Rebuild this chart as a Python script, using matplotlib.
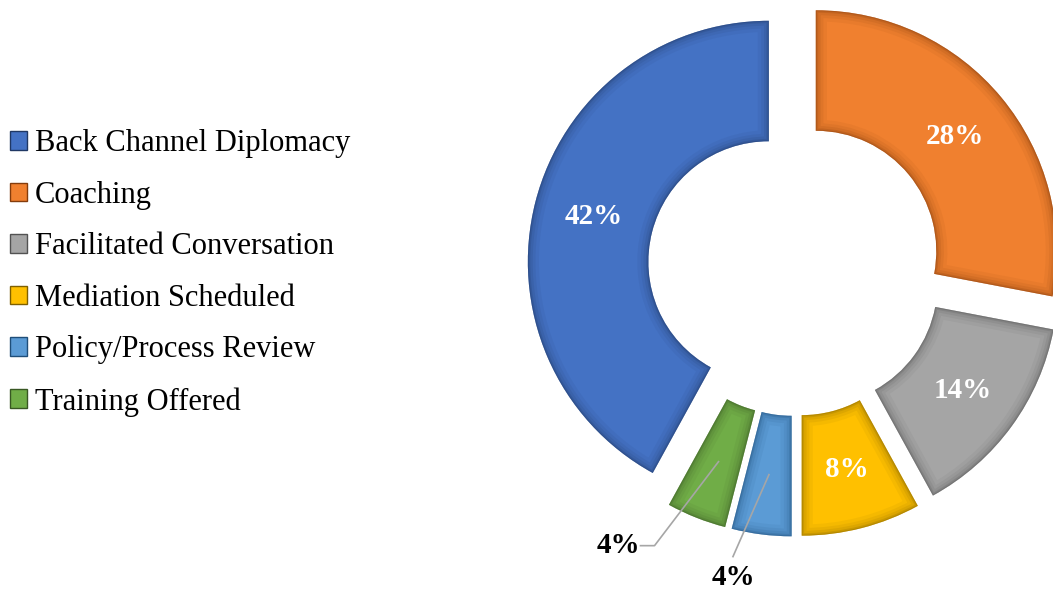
import numpy as np
import matplotlib
matplotlib.use('Agg')
import matplotlib.pyplot as plt
from matplotlib.patches import PathPatch, Patch

# ── Data ───────────────────────────────────────────────────────────────────
categories = ['Back Channel Diplomacy', 'Coaching', 'Facilitated Conversation',
              'Mediation Scheduled', 'Policy/Process Review', 'Training Offered']
shares = [42, 28, 14, 8, 4, 4]

# ── Style ──────────────────────────────────────────────────────────────────
colors = ['#4472C4', '#F0802F', '#A5A5A5', '#FFC000', '#5B9BD5', '#70AD47']
rim_colors = ['#203864', '#843C0C', '#525252', '#7F6000', '#1F4E79', '#385723']

plt.rcParams['font.family'] = ['Liberation Serif', 'DejaVu Serif']

fig = plt.figure(figsize=(10.53, 5.92), dpi=100)
ax = fig.add_axes([0, 0, 1, 1])

px = 241.0                      # pixels per unit radius
cx_px, cy_px = 795.0, 268.5     # donut centre in pixels (from top-left)
explode = [27 / px] * len(shares)
# Back Channel sits last clockwise from 12 o'clock
start = 90 - 360 * sum(shares[1:]) / sum(shares)

wedges, _ = ax.pie(shares, colors=colors, explode=explode, startangle=start,
                   counterclock=False, radius=1.0,
                   wedgeprops=dict(width=0.5, linewidth=0))

# fake bevel: soft dark rim clipped to the inside of each wedge
for w, rc in zip(wedges, rim_colors):
    for lw, a in [(16, 0.07), (11, 0.09), (7, 0.12), (3.5, 0.2), (1.5, 0.3)]:
        rim = PathPatch(w.get_path(), transform=ax.transData, fill=False,
                        edgecolor=rc, lw=lw, alpha=a)
        rim.set_clip_path(w)
        ax.add_patch(rim)

# ── Data labels ────────────────────────────────────────────────────────────
total = sum(shares)
for w, v in zip(wedges, shares):
    mid = np.deg2rad(0.5 * (w.theta1 + w.theta2))
    x0, y0 = w.center
    ax_, ay_ = x0 + 0.75 * np.cos(mid), y0 + 0.75 * np.sin(mid)
    pct = f'{round(100 * v / total)}%'
    if v >= 5:
        ax.text(ax_, ay_, pct, color='white', fontsize=21, fontweight='bold',
                ha='center', va='center')

# small slices: labels outside with leader lines
small = [(w, v) for w, v in zip(wedges, shares) if v < 5]
for i, (w, v) in enumerate(small):
    mid = np.deg2rad(0.5 * (w.theta1 + w.theta2))
    x0, y0 = w.center
    ax_, ay_ = x0 + 0.75 * np.cos(mid), y0 + 0.75 * np.sin(mid)
    pct = f'{round(100 * v / total)}%'
    if i == 0:   # Policy/Process Review
        ex, ey = ax_ - 36 / px, ay_ - 82 / px
        ax.plot([ax_, ex], [ay_, ey], color='#A6A6A6', lw=1.2)
        ax.text(ex, ey - 21 / px, pct, color='black', fontsize=21,
                fontweight='bold', ha='center', va='center')
    else:        # Training Offered
        bx, by = ax_ - 64 / px, ay_ - 84 / px
        ex = bx - 14 / px
        ax.plot([ax_, bx, ex], [ay_, by, by], color='#A6A6A6', lw=1.2)
        ax.text(ex, by, pct, color='black', fontsize=21,
                fontweight='bold', ha='right', va='center')

# ── Legend ─────────────────────────────────────────────────────────────────
handles = [Patch(facecolor=c, edgecolor=rc, linewidth=1.0)
           for c, rc in zip(colors, rim_colors)]
fig.legend(handles, categories, loc='upper left',
           bbox_to_anchor=(10 / 1053, 1 - 129 / 592),
           frameon=False, fontsize=22, handlelength=0.56, handleheight=0.56,
           handletextpad=0.26, labelspacing=0.74, borderpad=0,
           borderaxespad=0)

# ── Axes ───────────────────────────────────────────────────────────────────
ax.set_xlim(-cx_px / px, (1053 - cx_px) / px)
ax.set_ylim(-(592 - cy_px) / px, cy_px / px)
ax.set_aspect('auto')
ax.axis('off')

fig.savefig('out.png', dpi=100)
